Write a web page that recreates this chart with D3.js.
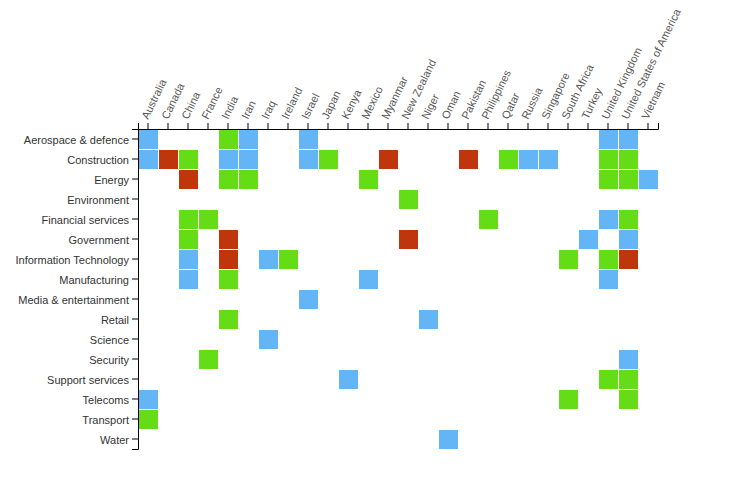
<!DOCTYPE html>
<html lang="en">
<head>
    <meta charset="UTF-8">
    <title>Sector by country heatmap</title>
    <style>
        body { margin: 0; background: #fff; }
        svg { display: block; }
        text { font-family: Arial, "Liberation Sans", sans-serif; font-size: 11px; fill: #333; }
        .x-axis text { fill: #555; }
    </style>
    <script src="https://d3js.org/d3.v7.min.js"></script>
</head>
<body>
    <svg id="chart" width="740" height="484"></svg>
    <script>
        const countries = ["Australia", "Canada", "China", "France", "India", "Iran", "Iraq", "Ireland", "Israel",
            "Japan", "Kenya", "Mexico", "Myanmar", "New Zealand", "Niger", "Oman", "Pakistan", "Philippines", "Qatar",
            "Russia", "Singapore", "South Africa", "Turkey", "United Kingdom", "United States of America", "Vietnam"];

        const sectors = ["Aerospace & defence", "Construction", "Energy", "Environment", "Financial services",
            "Government", "Information Technology", "Manufacturing", "Media & entertainment", "Retail", "Science",
            "Security", "Support services", "Telecoms", "Transport", "Water"];

        // [sector, country] pairs, one list per colour
        const blueCells = [
            ["Aerospace & defence", "Australia"], ["Aerospace & defence", "Iran"], ["Aerospace & defence", "Israel"],
            ["Aerospace & defence", "United Kingdom"], ["Aerospace & defence", "United States of America"],
            ["Construction", "Australia"], ["Construction", "India"], ["Construction", "Iran"],
            ["Construction", "Israel"], ["Construction", "Russia"], ["Construction", "Singapore"],
            ["Energy", "Vietnam"],
            ["Financial services", "United Kingdom"],
            ["Government", "Turkey"], ["Government", "United States of America"],
            ["Information Technology", "China"], ["Information Technology", "Iraq"],
            ["Manufacturing", "China"], ["Manufacturing", "Mexico"], ["Manufacturing", "United Kingdom"],
            ["Media & entertainment", "Israel"],
            ["Retail", "Niger"],
            ["Science", "Iraq"],
            ["Security", "United States of America"],
            ["Support services", "Kenya"],
            ["Telecoms", "Australia"],
            ["Water", "Oman"]
        ];

        const greenCells = [
            ["Aerospace & defence", "India"],
            ["Construction", "China"], ["Construction", "Japan"], ["Construction", "Qatar"],
            ["Construction", "United Kingdom"], ["Construction", "United States of America"],
            ["Energy", "India"], ["Energy", "Iran"], ["Energy", "Mexico"], ["Energy", "United Kingdom"],
            ["Energy", "United States of America"],
            ["Environment", "New Zealand"],
            ["Financial services", "China"], ["Financial services", "France"], ["Financial services", "Philippines"],
            ["Financial services", "United States of America"],
            ["Government", "China"],
            ["Information Technology", "Ireland"], ["Information Technology", "South Africa"],
            ["Information Technology", "United Kingdom"],
            ["Manufacturing", "India"],
            ["Retail", "India"],
            ["Security", "France"],
            ["Support services", "United Kingdom"], ["Support services", "United States of America"],
            ["Telecoms", "South Africa"], ["Telecoms", "United States of America"],
            ["Transport", "Australia"]
        ];

        const redCells = [
            ["Construction", "Canada"], ["Construction", "Myanmar"], ["Construction", "Pakistan"],
            ["Energy", "China"],
            ["Government", "India"], ["Government", "New Zealand"],
            ["Information Technology", "India"], ["Information Technology", "United States of America"]
        ];

        const margin = { top: 129, left: 138 };
        const width = 520;
        const height = 320;

        const svg = d3.select("#chart");
        const g = svg.append("g").attr("transform", `translate(${margin.left},${margin.top})`);

        const x = d3.scaleBand().domain(countries).range([0, width]);
        const y = d3.scaleBand().domain(sectors).range([0, height]);

        // Draw the cells for one colour
        function drawCells(cells, color) {
            g.selectAll(null)
                .data(cells)
                .enter()
                .append("rect")
                .attr("x", d => x(d[1]) + 1)
                .attr("y", d => y(d[0]) + 1)
                .attr("width", x.bandwidth() - 1)
                .attr("height", y.bandwidth() - 1)
                .attr("fill", color);
        }

        drawCells(blueCells, "#64b5f6");
        drawCells(greenCells, "#64dd17");
        drawCells(redCells, "#bf360c");

        g.append("g").attr("class", "y-axis").call(d3.axisLeft(y))
            .selectAll("text")
            .attr("dy", "0.41em");

        g.append("g").attr("class", "x-axis").call(d3.axisTop(x))
            .selectAll("text")
            .attr("text-anchor", "start")
            .attr("transform", "rotate(-64)")
            .attr("x", 8)
            .attr("y", -4)
            .attr("dy", 0);
    </script>
</body>
</html>
